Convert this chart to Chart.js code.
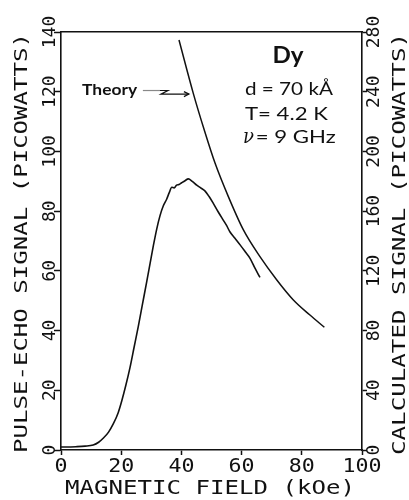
<!DOCTYPE html>
<html>
<head>
<meta charset="utf-8">
<script src="https://cdn.jsdelivr.net/npm/chart.js@4"></script>
<style>
  html, body { margin: 0; padding: 0; background: #fff; }
  canvas { display: block; }
</style>
</head>
<body>
<canvas id="dy-chart" width="409" height="500"></canvas>
<script>
// Dy film: pulse-echo signal vs magnetic field, with calculated (theory) curve on right axis

const fieldExp = [0, 2, 5, 8, 10.7, 12.5, 14.1, 15.8, 17.4, 19, 20.2, 21.5, 22.9, 24.3, 25.7, 27.1, 28.5, 29.6,
    30.7, 31.8, 32.9, 34, 35.1, 36, 36.8, 37.6, 38.4, 39.2, 40.1, 41.2, 42.3, 43.6, 45.1, 46.4, 47.8, 49.2,
    50.6, 52.2, 53.9, 55, 56.1, 57.8, 59.5, 61.2, 62.8, 64.4, 66.1];
const signalExp = [1.0, 1.0, 1.1, 1.3, 1.7, 2.6, 4.0, 6.0, 8.8, 12.5, 16.5, 21.5, 27.5, 34.5, 41.5, 49, 56.5, 62.5,
    68.5, 74.0, 78.5, 81.8, 84.0, 86.3, 88.0, 87.8, 88.7, 88.9, 89.5, 90.2, 90.8, 90.0, 88.7, 87.8, 86.8, 84.9,
    82.6, 79.8, 77.0, 75.2, 73.1, 70.9, 68.7, 66.4, 64.2, 61.0, 57.8];

const fieldTheory = [39.2, 43.95, 47.6, 51.2, 55.6, 60.6, 66.1, 71.7, 77.2, 82.7, 87.5];
const signalTheory = [274.6, 238.9, 214.3, 192.0, 169.7, 147.4, 129.5, 113.9, 100.5, 90.4, 82.2];

const xTicks = [0, 20, 40, 60, 80, 100];
const yLeftTicks = [0, 20, 40, 60, 80, 100, 120, 140];
const yRightTicks = [0, 40, 80, 120, 160, 200, 240, 280];

const xTitle = 'MAGNETIC FIELD (kOe)';
const yLeftTitle = 'PULSE-ECHO SIGNAL (PICOWATTS)';
const yRightTitle = 'CALCULATED SIGNAL (PICOWATTS)';

// annotation texts, anchored in data coords (x field, y left-axis signal)
const notes = [
    { text: 'Dy', x: 75.4, y: 129.6, font: 'bold 23px Lato', align: 'center', width: 31 },
    { text: 'd = 70 kÅ', x: 61.1, y: 118.9, font: '18px Lato', align: 'left', width: 88 },
    { text: 'T= 4.2 K', x: 61.1, y: 110.5, font: '18px Lato', align: 'left', width: 83 },
    { text: 'ν', x: 60.5, y: 102.8, font: 'italic 20px "DejaVu Serif"', align: 'left', width: 11 },
    { text: '= 9 GHz', x: 64.7, y: 102.8, font: '18px Lato', align: 'left', width: 80 },
    { text: 'Theory', x: 7.0, y: 118.9, font: 'bold 15px Lato', align: 'left', width: 55 },
];
// arrow from "Theory" label to the theory curve
const arrowX = [27.2, 35.5, 33.2, 42.5];
const arrowY = [120.4, 120.4, 119.2, 119.2];

const AXIS_FONT = '20px "DejaVu Sans Mono"';

// draw text centred at (cx, cy), squeezed/stretched to a given length
function fitText(ctx, text, cx, cy, len, rot, font) {
    ctx.save();
    ctx.translate(cx, cy);
    ctx.rotate(rot);
    ctx.font = font;
    const w = ctx.measureText(text).width;
    ctx.scale(len / w, 1);
    ctx.textAlign = 'center';
    ctx.textBaseline = 'middle';
    ctx.fillStyle = '#111';
    ctx.fillText(text, 0, 0);
    ctx.restore();
}

const labelsPlugin = {
    id: 'plotterLabels',
    afterDraw(chart) {
        const ctx = chart.ctx;
        const { x, y, y2 } = chart.scales;
        const up = -Math.PI / 2;

        // tick labels
        xTicks.forEach(v => {
            const s = String(v);
            fitText(ctx, s, x.getPixelForValue(v), 467, s.length * 13, 0, AXIS_FONT);
        });
        yLeftTicks.forEach(v => {
            const s = String(v);
            fitText(ctx, s, 51, y.getPixelForValue(v), s.length * 10.8, up, '17px "DejaVu Sans Mono"');
        });
        yRightTicks.forEach(v => {
            const s = String(v);
            fitText(ctx, s, 375, y2.getPixelForValue(v), s.length * 10.8, up, '17px "DejaVu Sans Mono"');
        });

        // axis titles
        fitText(ctx, xTitle, 210, 489, 290, 0, AXIS_FONT);
        fitText(ctx, yLeftTitle, 22, 243, 420, up, '18px "DejaVu Sans Mono"');
        fitText(ctx, yRightTitle, 400, 244, 422, up, '18px "DejaVu Sans Mono"');

        // notes
        notes.forEach(n => {
            ctx.save();
            ctx.font = n.font;
            ctx.fillStyle = '#111';
            ctx.textBaseline = 'alphabetic';
            const w = ctx.measureText(n.text).width;
            const px = x.getPixelForValue(n.x);
            const py = y.getPixelForValue(n.y);
            const left = n.align === 'center' ? px - n.width / 2 : px;
            ctx.translate(left, py);
            ctx.scale(n.width / w, 1);
            ctx.textAlign = 'left';
            ctx.fillText(n.text, 0, 0);
            ctx.restore();
        });

        // arrow
        const pts = arrowX.map((v, i) => [x.getPixelForValue(v), y.getPixelForValue(arrowY[i])]);
        ctx.save();
        ctx.lineWidth = 1.2;
        ctx.strokeStyle = '#888';
        ctx.beginPath();
        ctx.moveTo(pts[0][0], pts[0][1]);
        ctx.lineTo(pts[1][0] - 8, pts[1][1]);
        ctx.stroke();
        ctx.strokeStyle = '#111';
        ctx.beginPath();
        ctx.moveTo(pts[1][0] - 8, pts[1][1]);
        ctx.lineTo(pts[1][0], pts[1][1]);
        ctx.lineTo(pts[2][0], pts[2][1]);
        ctx.lineTo(pts[3][0], pts[3][1]);
        ctx.stroke();
        const tip = pts[3];
        ctx.beginPath();
        ctx.moveTo(tip[0] - 5, tip[1] - 2.5);
        ctx.lineTo(tip[0], tip[1]);
        ctx.lineTo(tip[0] - 5, tip[1] + 2.5);
        ctx.stroke();
        ctx.restore();
    }
};

const axisGrid = (len) => ({
    drawOnChartArea: false,
    drawTicks: len > 0,
    tickLength: len,
    tickWidth: 1.5,
    tickColor: '#111',
    color: '#111',
});
const axisBorder = { display: true, color: '#111', width: 1.6 };

new Chart(document.getElementById('dy-chart'), {
    type: 'line',
    data: {
        datasets: [
            {
                label: 'Pulse-echo',
                data: fieldExp.map((f, i) => ({ x: f, y: signalExp[i] })),
                yAxisID: 'y',
                borderColor: '#111',
                borderWidth: 1.6,
                pointRadius: 0,
                cubicInterpolationMode: 'monotone',
            },
            {
                label: 'Theory',
                data: fieldTheory.map((f, i) => ({ x: f, y: signalTheory[i] })),
                yAxisID: 'y2',
                borderColor: '#111',
                borderWidth: 1.5,
                pointRadius: 0,
                cubicInterpolationMode: 'monotone',
            },
        ]
    },
    options: {
        responsive: false,
        animation: false,
        layout: { padding: 0 },
        plugins: { legend: { display: false }, tooltip: { enabled: false } },
        scales: {
            x: {
                type: 'linear', position: 'bottom', min: 0, max: 100,
                ticks: { display: false, stepSize: 20 },
                grid: axisGrid(5), border: axisBorder,
                afterFit: s => { s.height = 50; },
            },
            xTop: {
                type: 'linear', position: 'top', min: 0, max: 100,
                ticks: { display: false },
                grid: axisGrid(0), border: axisBorder,
                afterFit: s => { s.height = 32; },
            },
            y: {
                type: 'linear', position: 'left', min: 0, max: 140,
                ticks: { display: false, stepSize: 20 },
                grid: axisGrid(7), border: axisBorder,
                afterFit: s => { s.width = 61; },
            },
            y2: {
                type: 'linear', position: 'right', min: 0, max: 280,
                ticks: { display: false, stepSize: 40 },
                grid: axisGrid(5), border: axisBorder,
                afterFit: s => { s.width = 47; },
            },
        }
    },
    plugins: [labelsPlugin],
});
</script>
</body>
</html>
